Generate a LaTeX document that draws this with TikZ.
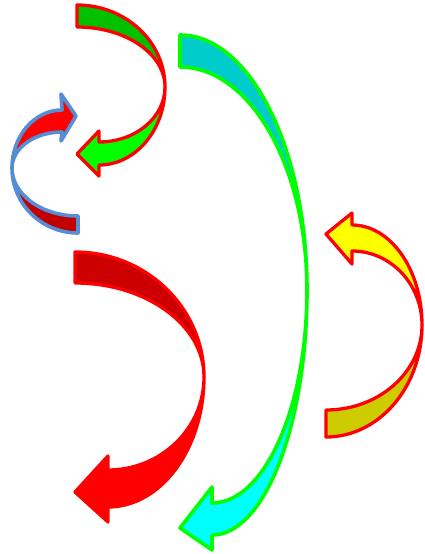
\documentclass[tikz,border=0pt]{standalone}
\usepackage{tikz}
\usepackage{xcolor}
\definecolor{grnback}{HTML}{00C000}
\definecolor{grnfront}{HTML}{00FF00}
\definecolor{redback}{HTML}{C00000}
\definecolor{darkred}{HTML}{CC0000}
\definecolor{redfront}{HTML}{FF0000}
\definecolor{cyanback}{HTML}{00CCCC}
\definecolor{cyanfront}{HTML}{00FFFF}
\definecolor{ylwback}{HTML}{CCCC00}
\definecolor{ylwfront}{HTML}{FFFF00}
\definecolor{bluestroke}{HTML}{558ED5}

\begin{document}
\begin{tikzpicture}[
    x=1pt, y=-1pt,
    band/.style={line width=3.3pt, line join=round},
    redline/.style={band, draw=redfront},
    blueline/.style={band, draw=bluestroke, line width=3.6pt},
    grnline/.style={band, draw=grnfront, line width=3.6pt}
]
\useasboundingbox (0,0) rectangle (424,554);

% green arrow, top
\filldraw[redline, fill=grnback] (77,5)
    arc[start angle=-90, end angle=0, x radius=88, y radius=82]
    arc[start angle=0, end angle=-90, x radius=88, y radius=60] -- cycle;
\filldraw[redline, fill=grnfront] (165,87)
    arc[start angle=0, end angle=90, x radius=66, y radius=78]
    -- (99,176) -- (77,154) -- (99,131) -- (99,142)
    arc[start angle=90, end angle=0, x radius=66, y radius=55] -- cycle;

% red arrow with blue border, left
\filldraw[blueline, fill=redback] (78,233)
    arc[start angle=90, end angle=180, x radius=66, y radius=65]
    arc[start angle=180, end angle=90, x radius=66, y radius=48] -- cycle;
\filldraw[blueline, fill=redfront] (12,168)
    arc[start angle=180, end angle=270, x radius=50, y radius=58]
    -- (61,94) -- (76,116) -- (61,141) -- (62,132)
    arc[start angle=270, end angle=180, x radius=50, y radius=36] -- cycle;

% cyan arrow, middle
\filldraw[grnline, fill=cyanback] (180,35)
    arc[start angle=-90, end angle=0, x radius=127, y radius=255]
    arc[start angle=0, end angle=-90, x radius=127, y radius=223] -- cycle;
\filldraw[grnline, fill=cyanfront] (307,290)
    arc[start angle=0, end angle=90, x radius=95, y radius=245]
    -- (212,550) -- (180,528) -- (212,487) -- (212,503)
    arc[start angle=90, end angle=0, x radius=95, y radius=213] -- cycle;

% yellow arrow, right
\filldraw[redline, fill=ylwback] (326,437)
    arc[start angle=90, end angle=0, x radius=96, y radius=112]
    arc[start angle=0, end angle=90, x radius=96, y radius=85] -- cycle;
\filldraw[redline, fill=ylwfront] (422,325)
    arc[start angle=0, end angle=-90, x radius=70, y radius=100]
    -- (352,213) -- (326,234) -- (352,264) -- (352,251)
    arc[start angle=-90, end angle=0, x radius=70, y radius=74] -- cycle;

% big red arrow, bottom left
\filldraw[redline, fill=darkred] (75,252)
    arc[start angle=-90, end angle=0, x radius=129, y radius=125]
    arc[start angle=0, end angle=-90, x radius=129, y radius=94] -- cycle;
\filldraw[redline, fill=redfront] (204,377)
    arc[start angle=0, end angle=90, x radius=96, y radius=130]
    -- (108,522) -- (75,492) -- (108,456) -- (108,470)
    arc[start angle=90, end angle=0, x radius=96, y radius=93] -- cycle;

\end{tikzpicture}
\end{document}
